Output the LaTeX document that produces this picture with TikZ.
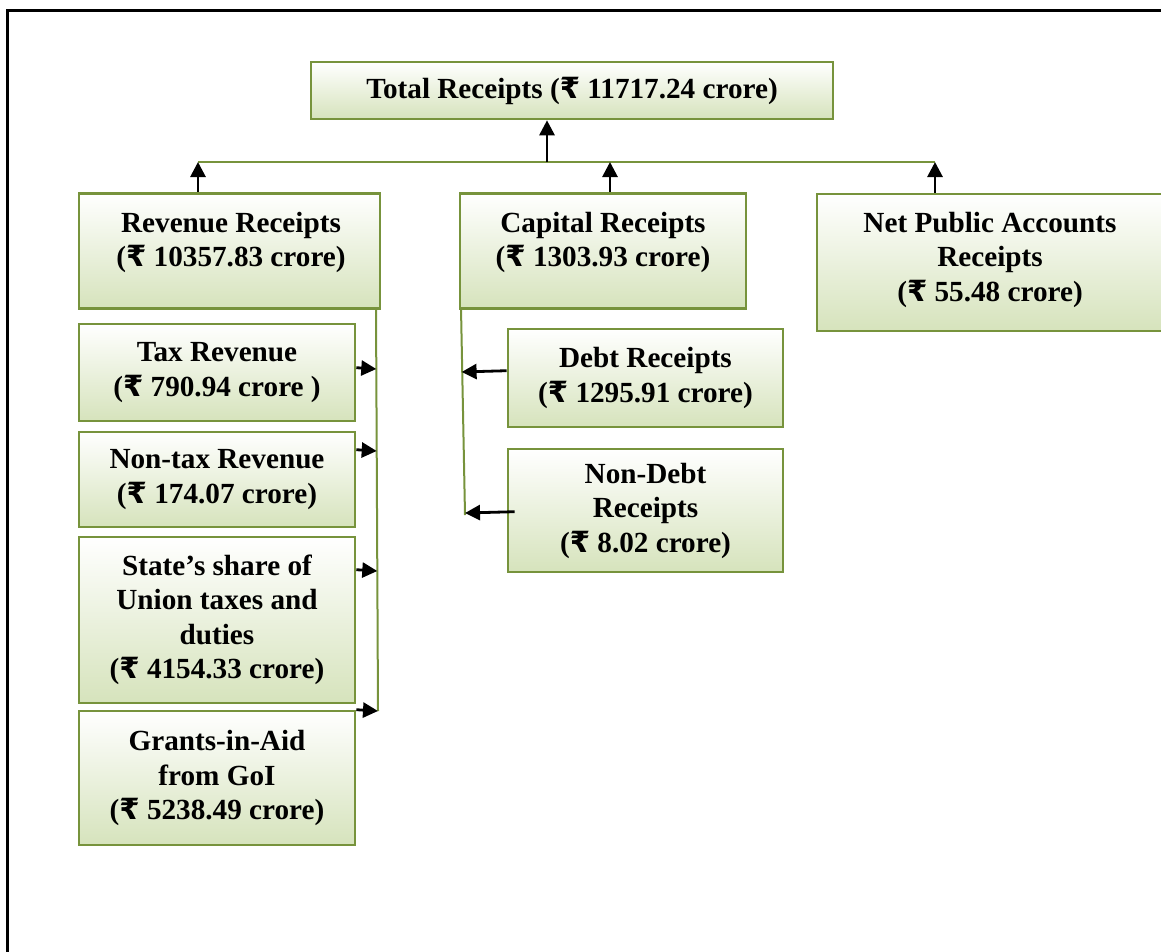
\documentclass[tikz,border=0pt]{standalone}
\usepackage{fontspec}
\setmainfont{Liberation Serif}
\newfontfamily\rsfont{DejaVu Sans}
\newcommand{\Rs}{{\rsfont\bfseries ₹}}
\usetikzlibrary{arrows.meta,calc}
\definecolor{bord}{RGB}{119,147,60}
\definecolor{fillb}{RGB}{214,227,188}
\newcommand{\boxfont}{\bfseries\fontsize{29.2}{34.5}\selectfont}
\begin{document}
\begin{tikzpicture}[x=1pt,y=-1pt,
  box/.style={draw=bord,line width=2.6pt,top color=white,bottom color=fillb,inner sep=0pt,align=center,font=\boxfont},
  txt/.style={align=center,font=\boxfont,inner sep=0pt},
  gline/.style={draw=bord,line width=2pt},
  arr/.style={draw=black,line width=2.8pt,-{Triangle[length=15pt,width=15pt]}}]
\useasboundingbox (0,0) rectangle (1161,951);
\clip (0,0) rectangle (1161,951);
% outer frame
\draw[line width=3pt] (7,970) -- (7,10) -- (1180,10);

% boxes
\node[box,minimum width=522pt,minimum height=57pt] (total) at (572,90.5) {Total Receipts (\Rs\ 11717.24 crore)};
\node[box,minimum width=301pt,minimum height=115pt] (rev) at (229.5,251) {};
\node[txt] (revT) at (231,242.5) {Revenue Receipts\\(\Rs\ 10357.83 crore)};
\node[box,minimum width=286pt,minimum height=115pt] (cap) at (603,251) {};
\node[txt] (capT) at (603,242.5) {Capital Receipts\\(\Rs\ 1303.93 crore)};
\node[box,minimum width=346pt,minimum height=137pt] (net) at (990,262.5) {};
\node[txt] (netT) at (990,259.5) {Net Public Accounts\\Receipts\\(\Rs\ 55.48 crore)};
\node[box,minimum width=276pt,minimum height=97pt] (tax) at (217,372.5) {Tax Revenue\\(\Rs\ 790.94 crore )};
\node[box,minimum width=276pt,minimum height=95pt] (ntax) at (217,479.5) {Non-tax Revenue\\(\Rs\ 174.07 crore)};
\node[box,minimum width=276pt,minimum height=166pt] (state) at (217,620) {State’s share of\\Union taxes and\\duties\\(\Rs\ 4154.33 crore)};
\node[box,minimum width=276pt,minimum height=134pt] (grant) at (217,778) {Grants-in-Aid\\from GoI\\(\Rs\ 5238.49 crore)};
\node[box,minimum width=275pt,minimum height=98pt] (debt) at (645.5,378) {Debt Receipts\\(\Rs\ 1295.91 crore)};
\node[box,minimum width=275pt,minimum height=123pt] (ndebt) at (645.5,510.5) {Non-Debt\\Receipts\\(\Rs\ 8.02 crore)};

% top connector
\coordinate (hL) at (198,162);
\coordinate (hM) at (547,162);
\coordinate (hC) at (610,162);
\coordinate (hR) at (935,162);
\draw[gline] (hL) -- (hR);
\draw[arr] (hM) -- (total.south -| hM);
\draw[arr] (rev.north -| hL) -- (hL);
\draw[arr] (cap.north -| hC) -- (hC);
\draw[arr] (net.north -| hR) -- (hR);

% revenue branch
\coordinate (rv1) at (376,308);
\coordinate (rv2) at (378,711);
\draw[gline] (rv1) -- (rv2);
\coordinate (ta) at (376.3,369);
\coordinate (na) at (376.7,451);
\coordinate (sa) at (377.3,571);
\draw[arr] ($(tax.north east)+(0,45)$) -- (ta);
\draw[arr] ($(ntax.north east)+(0,19)$) -- (na);
\draw[arr] ($(state.north east)+(0,34)$) -- (sa);
\draw[arr] (grant.north east) -- (rv2);

% capital branch
\coordinate (cv1) at (461,308);
\coordinate (cv2) at (465,515);
\draw[gline] (cv1) -- (cv2);
\coordinate (da) at (461.6,372);
\coordinate (nda) at (465,513);
\draw[arr] ($(debt.north west)+(0,43)$) -- (da);
\draw[arr] ($(ndebt.north west)+(8,64)$) -- (nda);
\end{tikzpicture}
\end{document}
